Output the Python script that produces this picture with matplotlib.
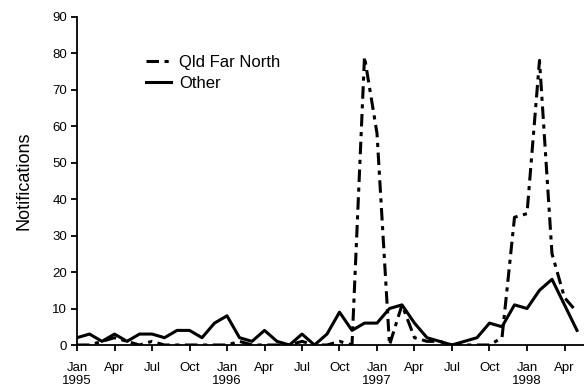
import numpy as np
import matplotlib
matplotlib.use("Agg")
import matplotlib.pyplot as plt

plt.rcParams['font.family'] = ['Liberation Sans', 'DejaVu Sans']
plt.rcParams['lines.scale_dashes'] = False

# monthly notifications, Jan 1995 - May 1998
qld_far_north = [0, 0, 1, 2, 1, 0, 1, 0, 0, 0, 0, 0,
                 0, 1, 0, 0, 0, 0, 1, 0, 0, 1, 0, 79,
                 58, 0, 11, 2, 1, 1, 0, 0, 0, 0, 2, 35,
                 36, 78, 25, 13, 9]
other = [2, 3, 1, 3, 1, 3, 3, 2, 4, 4, 2, 6,
         8, 2, 1, 4, 1, 0, 3, 0, 3, 9, 4, 6,
         6, 10, 11, 6, 2, 1, 0, 1, 2, 6, 5, 11,
         10, 15, 18, 11, 4]
tick_labels = ['Jan\n1995', 'Apr', 'Jul', 'Oct',
               'Jan\n1996', 'Apr', 'Jul', 'Oct',
               'Jan\n1997', 'Apr', 'Jul', 'Oct',
               'Jan\n1998', 'Apr']

months = np.arange(len(other))

fig = plt.figure(figsize=(5.84, 3.87), dpi=100)
ax = fig.add_axes([77/584, 1 - 345/387, 1 - 77/584, (345 - 16.6)/387])

ax.plot(months, qld_far_north, color='black', lw=2.2, linestyle=(0, (9, 4, 3, 4)), label='Qld Far North')
ax.plot(months, other, color='black', lw=2.2, linestyle='-', label='Other')

ax.set_xlim(0, 40.56)
ax.set_ylim(0, 90)
ax.set_yticks(np.arange(0, 91, 10))
ax.set_xticks(np.arange(0, 3 * len(tick_labels), 3))
ax.set_xticklabels(tick_labels, linespacing=1.15)

for side in ['top', 'right']:
    ax.spines[side].set_visible(False)
for side in ['left', 'bottom']:
    ax.spines[side].set_linewidth(1.3)
ax.tick_params(direction='out', length=4, width=1.3, labelsize=9.5, colors='black')
ax.tick_params(axis='x', pad=8)
ax.tick_params(axis='y', pad=3)

ax.set_ylabel('Notifications', fontsize=13, labelpad=14)

ax.legend(loc='upper left', bbox_to_anchor=(146/584, 1 - 55/387), bbox_transform=fig.transFigure,
          frameon=False, fontsize=12, handlelength=1.5, handletextpad=0.5,
          labelspacing=0.35, borderpad=0, borderaxespad=0)

fig.savefig('out.png', dpi=100)
